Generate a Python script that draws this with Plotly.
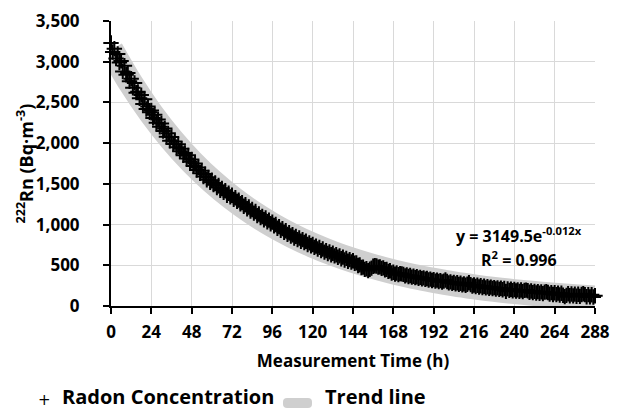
import plotly.graph_objects as go

hours = list(range(0, 289))
radon = [
    3230, 3120, 3160, 3040, 3095, 2990, 3010, 2880, 2950, 2840, 2860, 2760,
    2790, 2680, 2740, 2620, 2630, 2550, 2590, 2480, 2540, 2420, 2450, 2380,
    2400, 2310, 2350, 2250, 2290, 2200, 2240, 2150, 2180, 2080, 2120, 2030,
    2075, 1990, 2020, 1950, 1985, 1900, 1930, 1850, 1880, 1810, 1850, 1770,
    1800, 1720, 1750, 1670, 1700, 1630, 1660, 1590, 1620, 1550, 1580, 1520,
    1545, 1490, 1510, 1455, 1480, 1420, 1445, 1395, 1415, 1360, 1385, 1340,
    1360, 1310, 1330, 1285, 1300, 1255, 1270, 1225, 1245, 1195, 1215, 1165,
    1185, 1140, 1160, 1110, 1130, 1085, 1100, 1060, 1080, 1035, 1055, 1010,
    1030, 985, 1000, 955, 975, 930, 950, 905, 925, 880, 900, 860,
    875, 835, 855, 815, 835, 795, 815, 780, 795, 755, 775, 740,
    755, 720, 735, 700, 720, 680, 700, 662, 680, 645, 665, 630,
    648, 615, 630, 598, 615, 580, 600, 565, 585, 550, 570, 540,
    555, 525, 530, 498, 505, 472, 478, 450, 458, 435, 452, 465,
    488, 495, 492, 478, 480, 462, 468, 445, 450, 425, 432, 405,
    415, 392, 405, 385, 398, 395, 388, 370, 382, 362, 374, 355,
    366, 348, 360, 340, 352, 335, 345, 328, 338, 320, 330, 314,
    324, 306, 318, 300, 312, 294, 306, 320, 300, 284, 296, 278,
    290, 272, 285, 266, 280, 260, 272, 255, 268, 285, 262, 246,
    258, 240, 254, 234, 248, 228, 242, 222, 236, 218, 232, 214,
    226, 208, 222, 204, 218, 200, 214, 180, 210, 192, 206, 188,
    202, 184, 198, 180, 196, 176, 192, 195, 188, 168, 184, 164,
    180, 160, 176, 156, 174, 152, 170, 175, 166, 146, 164, 142,
    162, 140, 158, 136, 156, 132, 115, 130, 150, 126, 148, 124,
    146, 120, 144, 118, 142, 150, 140, 114, 140, 112, 138, 110,
    125,
]

# Exponential trend line y = 3149.5 e^(-0.012 x), values at 12 h steps
trend_x = [0, 12, 24, 36, 48, 60, 72, 84, 96, 108, 120, 132, 144, 156, 168,
           180, 192, 204, 216, 228, 240, 252, 264, 276, 288]
trend_y = [3149.5, 2727, 2361, 2045, 1770, 1533, 1327, 1149, 995, 862, 746,
           646, 559, 484, 419, 363, 315, 272, 236, 204, 177, 153, 133, 115, 99.5]

x_ticks = [0, 24, 48, 72, 96, 120, 144, 168, 192, 216, 240, 264, 288]
y_ticks = [0, 500, 1000, 1500, 2000, 2500, 3000, 3500]
y_labels = ["0", "500", "1,000", "1,500", "2,000", "2,500", "3,000", "3,500"]

FONT = "Open Sans"
TREND_COLOR = "#cfcfcf"

# the page body has an 8 px margin, so the figure is drawn 8 px in and down
OFF = 8
W, H = 624 - OFF, 411 - OFF
# plot area in page pixels: left 111, right 595, top 21, bottom 306
L, R, T, B = 111 - OFF, 595 - OFF, 21 - OFF, 306 - OFF
def px(xp):
    return (xp - OFF - L) / (R - L)
def py(yp):
    return (B - (yp - OFF)) / (B - T)

fig = go.Figure()
fig.add_trace(go.Scatter(
    x=trend_x, y=trend_y, mode="lines", name="Trend line",
    line=dict(color=TREND_COLOR, width=25, shape="spline"),
    showlegend=False,
))
fig.add_trace(go.Scatter(
    x=hours, y=radon, mode="markers", name="Radon Concentration",
    marker=dict(symbol="cross-thin", size=11, color="black",
                line=dict(color="black", width=2)),
    cliponaxis=False, showlegend=False,
))

# equation annotation
fig.add_annotation(x=px(519), y=py(235), xref="paper", yref="paper",
                   xanchor="center", yanchor="middle",
                   text="<b>y = 3149.5e<sup>-0.012x</sup></b>", showarrow=False,
                   font=dict(family=FONT, size=16, color="black"))
fig.add_annotation(x=px(519), y=py(259), xref="paper", yref="paper",
                   xanchor="center", yanchor="middle",
                   text="<b>R<sup>2</sup> = 0.996</b>", showarrow=False,
                   font=dict(family=FONT, size=16, color="black"))

# y-axis title
fig.add_annotation(x=px(25), y=0.5, xref="paper", yref="paper",
                   xanchor="center", yanchor="middle", textangle=-90,
                   text="<b><sup>222</sup>Rn (Bq·m<sup>-3</sup>)</b>", showarrow=False,
                   font=dict(family=FONT, size=18, color="black"))

# legend (drawn manually below the chart)
fig.add_annotation(x=px(44), y=py(400), xref="paper", yref="paper",
                   xanchor="center", yanchor="middle", text="+", showarrow=False,
                   font=dict(family="DejaVu Sans", size=15, color="black"))
fig.add_annotation(x=px(60), y=py(396), xref="paper", yref="paper",
                   xanchor="left", yanchor="middle", text="<b>Radon Concentration</b>",
                   showarrow=False, font=dict(family=FONT, size=20, color="black"))
fig.add_annotation(x=px(323), y=py(396), xref="paper", yref="paper",
                   xanchor="left", yanchor="middle", text="<b>Trend line</b>",
                   showarrow=False, font=dict(family=FONT, size=20, color="black"))
x0, x1, y0, y1 = px(283), px(312), py(408), py(398)
rx, ry = px(287) - px(283), py(398) - py(402)
fig.add_shape(type="path", xref="paper", yref="paper",
              path=(f"M {x0+rx},{y0} L {x1-rx},{y0} Q {x1},{y0} {x1},{y0+ry} "
                    f"L {x1},{y1-ry} Q {x1},{y1} {x1-rx},{y1} L {x0+rx},{y1} "
                    f"Q {x0},{y1} {x0},{y1-ry} L {x0},{y0+ry} Q {x0},{y0} {x0+rx},{y0} Z"),
              fillcolor=TREND_COLOR, line=dict(width=0))

fig.update_layout(
    width=W, height=H,
    margin=dict(l=L, r=W - R, t=T, b=H - B),
    paper_bgcolor="white", plot_bgcolor="white",
    font=dict(family=FONT, size=17, color="black"),
    showlegend=False,
    xaxis=dict(range=[0, 288], tickvals=x_ticks, ticktext=[f"<b>{v}</b>" for v in x_ticks],
               showgrid=True, gridcolor="#d9d9d9", gridwidth=1,
               showline=True, linecolor="black", linewidth=2,
               ticks="outside", ticklen=6, tickwidth=2, tickcolor="black",
               zeroline=False, automargin=False, ticklabelstandoff=4,
               title=dict(text="<b>Measurement Time (h)</b>", font=dict(size=17), standoff=13)),
    yaxis=dict(range=[0, 3500], tickvals=y_ticks, ticktext=[f"<b>{v}</b>" for v in y_labels],
               showgrid=True, gridcolor="#d9d9d9", gridwidth=1,
               showline=True, linecolor="black", linewidth=2,
               ticks="outside", ticklen=6, tickwidth=2, tickcolor="black",
               zeroline=False, ticklabelstandoff=20, automargin=False),
)

fig.write_html("out.html")
